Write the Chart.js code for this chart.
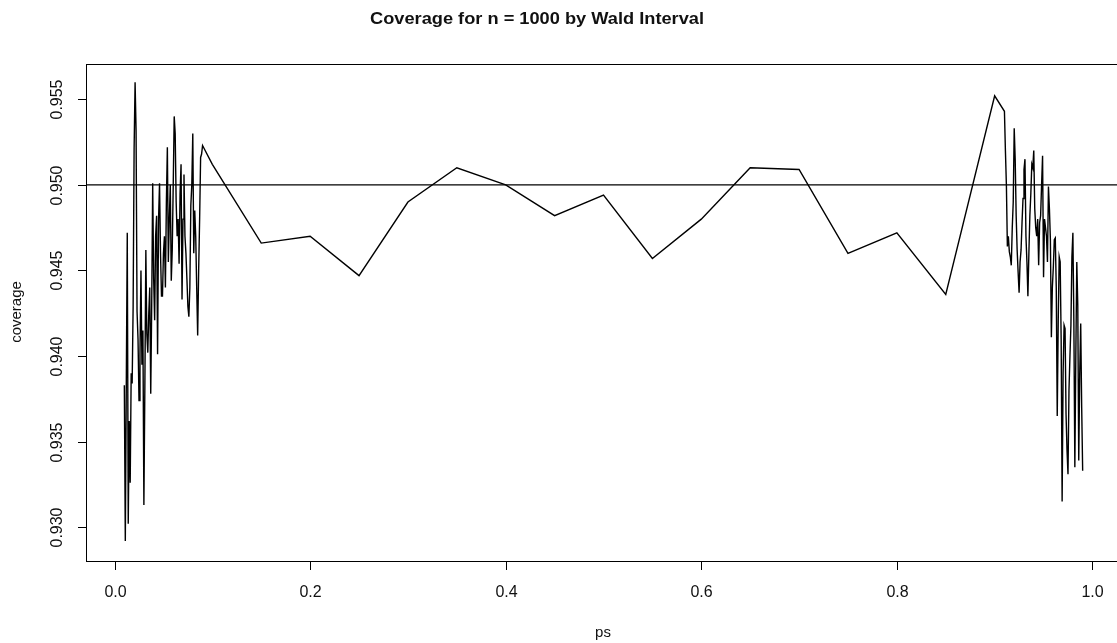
<!DOCTYPE html>
<html>
<head>
<meta charset="utf-8">
<title>Coverage for n = 1000 by Wald Interval</title>
<script src="https://cdn.jsdelivr.net/npm/chart.js@4/dist/chart.umd.min.js"></script>
<style>
	html, body { margin: 0; padding: 0; background: #fff; overflow: hidden; }
	#chart1 { display: block; }
</style>
</head>
<body>
<canvas id="chart1" width="1122" height="643"></canvas>
<script>
//values

//dense grid near p = 0
var psLow = [0.010,0.011,0.012,0.013,0.014,0.015,0.016,0.017,0.018,0.019,
	0.020,0.021,0.022,0.023,0.024,0.025,0.026,0.027,0.028,0.029,
	0.030,0.031,0.032,0.033,0.034,0.035,0.036,0.037,0.038,0.039,
	0.040,0.041,0.042,0.043,0.044,0.045,0.046,0.047,0.048,0.049,
	0.050,0.051,0.052,0.053,0.054,0.055,0.056,0.057,0.058,0.059,
	0.060,0.061,0.062,0.063,0.064,0.065,0.066,0.067,0.068,0.069,
	0.070,0.071,0.072,0.073,0.074,0.075,0.076,0.077,0.078,0.079,
	0.080,0.081,0.082,0.083,0.084,0.085,0.086,0.087,0.088,0.089,0.090];
var coverageLow = [0.9383,0.9292,0.9383,0.9472,0.9302,0.9362,0.9326,0.9390,0.9384,0.9429,
	0.9521,0.9560,0.9532,0.9426,0.9410,0.9374,0.9401,0.9450,0.9395,0.9415,
	0.9313,0.9383,0.9462,0.9413,0.9402,0.9425,0.9440,0.9378,0.9430,0.9501,
	0.9445,0.9421,0.9470,0.9482,0.9401,0.9480,0.9501,0.9460,0.9435,0.9435,
	0.9460,0.9470,0.9440,0.9490,0.9522,0.9455,0.9480,0.9500,0.9444,0.9462,
	0.9500,0.9540,0.9530,0.9490,0.9470,0.9480,0.9454,0.9495,0.9512,0.9433,
	0.9480,0.9506,0.9470,0.9460,0.9445,0.9429,0.9423,0.9440,0.9488,0.9500,
	0.9530,0.9460,0.9485,0.9470,0.9440,0.9412,0.9450,0.9480,0.9516,0.9518,0.9523];

//coarse grid in the middle
var psMid = [0.10,0.15,0.20,0.25,0.30,0.35,0.40,0.45,0.50,0.55,0.60,0.65,0.70,0.75,0.80,0.85,0.90];
var coverageMid = [0.9512,0.9466,0.9470,0.9447,0.9490,0.9510,0.9500,0.9482,0.9494,0.9457,
	0.9480,0.9510,0.9509,0.9460,0.9472,0.9436,0.9552];

//dense grid near p = 1
var psHigh = [0.910,0.911,0.912,0.913,0.914,0.915,0.916,0.917,0.918,0.919,
	0.920,0.921,0.922,0.923,0.924,0.925,0.926,0.927,0.928,0.929,
	0.930,0.931,0.932,0.933,0.934,0.935,0.936,0.937,0.938,0.939,
	0.940,0.941,0.942,0.943,0.944,0.945,0.946,0.947,0.948,0.949,
	0.950,0.951,0.952,0.953,0.954,0.955,0.956,0.957,0.958,0.959,
	0.960,0.961,0.962,0.963,0.964,0.965,0.966,0.967,0.968,0.969,
	0.970,0.971,0.972,0.973,0.974,0.975,0.976,0.977,0.978,0.979,
	0.980,0.981,0.982,0.983,0.984,0.985,0.986,0.987,0.988,0.989,0.990];
var coverageHigh = [0.9543,0.9520,0.9500,0.9464,0.9470,0.9461,0.9458,0.9453,0.9475,0.9490,
	0.9533,0.9515,0.9482,0.9462,0.9449,0.9437,0.9455,0.9462,0.9478,0.9492,
	0.9509,0.9515,0.9470,0.9455,0.9435,0.9460,0.9482,0.9495,0.9512,0.9510,
	0.9520,0.9486,0.9475,0.9470,0.9480,0.9453,0.9478,0.9482,0.9500,0.9517,
	0.9446,0.9480,0.9475,0.9470,0.9455,0.9499,0.9486,0.9468,0.9411,0.9440,
	0.9452,0.9468,0.9469,0.9440,0.9365,0.9420,0.9458,0.9455,0.9410,0.9315,
	0.9390,0.9418,0.9416,0.9366,0.9345,0.9331,0.9380,0.9400,0.9418,0.9458,
	0.9472,0.9420,0.9335,0.9400,0.9455,0.9430,0.9339,0.9390,0.9419,0.9370,0.9333];

//reference level and axis ticks
var nominal = 0.95;
var xTicks = [0.0, 0.2, 0.4, 0.6, 0.8, 1.0];
var xTickLabels = ["0.0", "0.2", "0.4", "0.6", "0.8", "1.0"];
var yTicks = [0.930, 0.935, 0.940, 0.945, 0.950, 0.955];
var yTickLabels = ["0.930", "0.935", "0.940", "0.945", "0.950", "0.955"];

//R style axis limits (data range stretched by 4%)
var xMin = -0.0292, xMax = 1.0292;
var yMin = 0.92803, yMax = 0.95706;

var fontFamily = "'Liberation Sans', Arial, Helvetica, sans-serif";

//put the three pieces together as x/y points
function buildPoints(){
	var pts = [];
	var allPs = psLow.concat(psMid, psHigh);
	var allCov = coverageLow.concat(coverageMid, coverageHigh);
	for(var i = 0; i < allPs.length; i++){
		pts.push({x: allPs[i], y: allCov[i]});
	}
	return pts;
}

//draws text, optionally stretched to a given width
function drawText(ctx, text, x, y, font, rotate, targetWidth){
	ctx.save();
	ctx.font = font;
	ctx.fillStyle = "#111";
	ctx.textAlign = "center";
	ctx.textBaseline = "middle";
	ctx.translate(x, y);
	if(rotate){
		ctx.rotate(-Math.PI / 2);
	}
	if(targetWidth){
		var w = ctx.measureText(text).width;
		ctx.scale(targetWidth / w, 1);
	}
	ctx.fillText(text, 0, 0);
	ctx.restore();
}

//box, ticks and labels in the base graphics look
var rAxesPlugin = {
	id: "rAxes",
	afterDraw: function(chart){
		var ctx = chart.ctx;
		var area = chart.chartArea;
		var xs = chart.scales.x;
		var ys = chart.scales.y;

		ctx.save();
		ctx.strokeStyle = "#000";
		ctx.lineWidth = 1;

		//plot box
		ctx.strokeRect(Math.round(area.left) + 0.5, Math.round(area.top) + 0.5,
			area.right - area.left, area.bottom - area.top);

		//x ticks
		for(var i = 0; i < xTicks.length; i++){
			var px = Math.round(xs.getPixelForValue(xTicks[i])) + 0.5;
			ctx.beginPath();
			ctx.moveTo(px, area.bottom);
			ctx.lineTo(px, area.bottom + 9);
			ctx.stroke();
			drawText(ctx, xTickLabels[i], px, 593, "16px " + fontFamily, false);
		}

		//y ticks
		for(var j = 0; j < yTicks.length; j++){
			var py = Math.round(ys.getPixelForValue(yTicks[j])) + 0.5;
			ctx.beginPath();
			ctx.moveTo(area.left, py);
			ctx.lineTo(area.left - 8, py);
			ctx.stroke();
			drawText(ctx, yTickLabels[j], 58, py, "16px " + fontFamily, true);
		}
		ctx.restore();

		//titles
		drawText(ctx, "Coverage for n = 1000 by Wald Interval", 537, 19, "bold 17px " + fontFamily, false, 334);
		drawText(ctx, "ps", 603, 633, "15px " + fontFamily, false);
		drawText(ctx, "coverage", 17, 312, "15px " + fontFamily, true);
	}
};

var ctx = document.getElementById("chart1");

var chart = new Chart(ctx, {
	type: "line",
	data: {
		datasets: [
			{
				label: "coverage",
				data: buildPoints(),
				borderColor: "#000",
				borderWidth: 1.4,
				pointRadius: 0,
				tension: 0,
				fill: false
			},
			{
				label: "nominal",
				data: [{x: xMin, y: nominal}, {x: xMax, y: nominal}],
				borderColor: "#000",
				borderWidth: 1.2,
				pointRadius: 0,
				fill: false
			}
		]
	},
	options: {
		responsive: false,
		animation: false,
		layout: { padding: { left: 86, right: 1, top: 64, bottom: 82 } },
		plugins: {
			legend: { display: false },
			tooltip: { enabled: false },
			title: { display: false }
		},
		scales: {
			x: { type: "linear", min: xMin, max: xMax, display: false },
			y: { type: "linear", min: yMin, max: yMax, display: false }
		}
	},
	plugins: [rAxesPlugin]
});
</script>
</body>
</html>
